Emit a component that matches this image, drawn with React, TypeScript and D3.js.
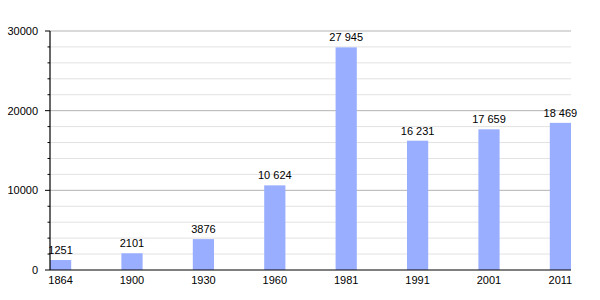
import React from "react";
import * as d3 from "d3";

const years = ["1864", "1900", "1930", "1960", "1981", "1991", "2001", "2011"];
const population = [1251, 2101, 3876, 10624, 27945, 16231, 17659, 18469];
const valueLabels = ["1251", "2101", "3876", "10 624", "27 945", "16 231", "17 659", "18 469"];
const majorTicks = [0, 10000, 20000, 30000];
const minorTicks = [2000, 4000, 6000, 8000, 12000, 14000, 16000, 18000, 22000, 24000, 26000, 28000];

export default function App() {
  const W = 600, H = 300;
  const left = 50, right = 571, top = 31, bottom = 270;
  const x = d3.scaleBand<string>().domain(years).range([left, right]).paddingInner(0.703).paddingOuter(0);
  const y = d3.scaleLinear().domain([0, 30000]).range([bottom, top]);
  const font = "'Liberation Sans', Arial, sans-serif";
  return (
    <svg width={W} height={H} style={{ position: "absolute", left: 0, top: 0, background: "#fff" }}>
      {minorTicks.map((t) => (
        <g key={"m" + t}>
          <line x1={left} x2={right} y1={y(t)} y2={y(t)} stroke="#e2e2e2" strokeWidth={1} />
          <line x1={left - 2.5} x2={left} y1={y(t)} y2={y(t)} stroke="#000" strokeWidth={1} />
        </g>
      ))}
      {majorTicks.map((t) => (
        <g key={"M" + t}>
          {t > 0 && <line x1={left} x2={right} y1={y(t)} y2={y(t)} stroke="#b3b3b3" strokeWidth={1} />}
          <line x1={left - 5} x2={left} y1={y(t)} y2={y(t)} stroke="#000" strokeWidth={1} />
          <text x={38} y={y(t)} dy="0.35em" textAnchor="end" fontFamily={font} fontSize={11} fill="#000">
            {t}
          </text>
        </g>
      ))}
      {years.map((yr, i) => {
        const bx = x(yr)!;
        const bw = x.bandwidth();
        const cx = bx + bw / 2;
        return (
          <g key={yr}>
            <rect x={bx} y={y(population[i])} width={bw} height={bottom - y(population[i])} fill="#9aaeff" />
            <text x={cx} y={y(population[i]) - 6} textAnchor="middle" fontFamily={font} fontSize={11} fill="#000">
              {valueLabels[i]}
            </text>
            <text x={cx} y={284} textAnchor="middle" fontFamily={font} fontSize={11} fill="#000">
              {yr}
            </text>
          </g>
        );
      })}
      <line x1={left} x2={right} y1={bottom} y2={bottom} stroke="#000" strokeWidth={1.2} />
      <line x1={left} x2={left} y1={top} y2={bottom} stroke="#000" strokeWidth={1.2} />
    </svg>
  );
}
